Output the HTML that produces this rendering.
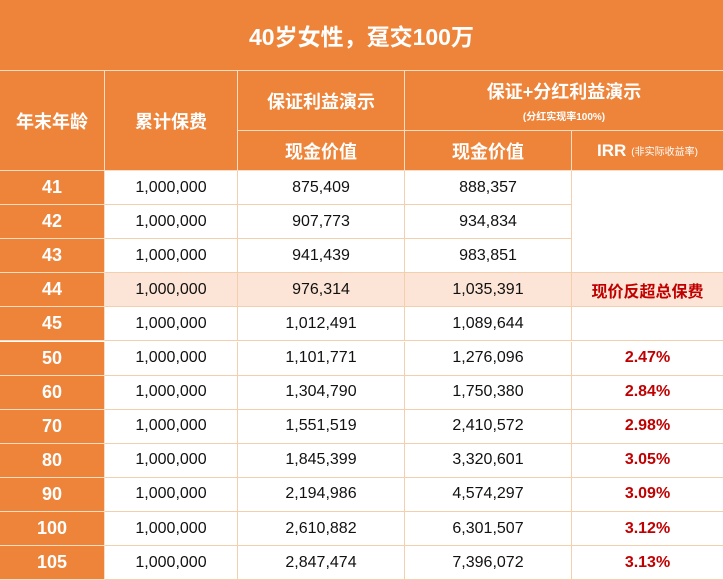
<!DOCTYPE html>
<html><head><meta charset="utf-8"><style>
*{margin:0;padding:0;box-sizing:border-box}
body{width:723px;height:580px;background:#fff;position:relative;overflow:hidden;font-family:"Liberation Sans","Noto Sans CJK SC",sans-serif}
.c{position:absolute;display:flex;align-items:center;justify-content:center;flex-direction:column;text-align:center;border-right:1px solid #f3cfae;border-bottom:1px solid #f3cfae}
.o{background:#ED843A;color:#fff;font-weight:bold;border-color:#f8dcc4}
.w{background:#fff;color:#111;font-size:16px}
.p{background:#FCE4D6}
.r{color:#c00000;font-weight:bold;font-size:16px}
</style></head><body>
<div class="c o" style="left:0;top:0;width:723px;height:71px;font-size:23px;border-right:none">40岁女性，趸交100万</div>
<div class="c o" style="left:0;top:71px;width:105px;height:100px;font-size:18px">年末年龄</div>
<div class="c o" style="left:105px;top:71px;width:133px;height:100px;font-size:18px">累计保费</div>
<div class="c o" style="left:238px;top:71px;width:167px;height:60px;font-size:18px">保证利益演示</div>
<div class="c o" style="left:405px;top:71px;width:318px;height:60px;font-size:18px;border-right:none">保证+分红利益演示<span style="font-size:10px;margin-top:4px">(分红实现率100%)</span></div>
<div class="c o" style="left:238px;top:131px;width:167px;height:40px;font-size:18px">现金价值</div>
<div class="c o" style="left:405px;top:131px;width:167px;height:40px;font-size:18px">现金价值</div>
<div class="c o" style="left:572px;top:131px;width:151px;height:40px;font-size:17px;flex-direction:row;border-right:none">IRR<span style="font-size:10px;margin-left:5px;font-weight:normal">(非实际收益率)</span></div>
<div id="rows"></div>
<script>
var d=[["41","875,409","888,357",""],["42","907,773","934,834",""],["43","941,439","983,851",""],["44","976,314","1,035,391","现价反超总保费"],["45","1,012,491","1,089,644",""],["50","1,101,771","1,276,096","2.47%"],["60","1,304,790","1,750,380","2.84%"],["70","1,551,519","2,410,572","2.98%"],["80","1,845,399","3,320,601","3.05%"],["90","2,194,986","4,574,297","3.09%"],["100","2,610,882","6,301,507","3.12%"],["105","2,847,474","7,396,072","3.13%"]];
var h="";
d.forEach(function(r,i){var t=171+i*34.1,hh=34.1,p=i==3?" p":"";
h+='<div class="c o" style="left:0;top:'+t+'px;width:105px;height:'+hh+'px;font-size:18px">'+r[0]+'</div>';
h+='<div class="c w'+p+'" style="left:105px;top:'+t+'px;width:133px;height:'+hh+'px">1,000,000</div>';
h+='<div class="c w'+p+'" style="left:238px;top:'+t+'px;width:167px;height:'+hh+'px">'+r[1]+'</div>';
h+='<div class="c w'+p+'" style="left:405px;top:'+t+'px;width:167px;height:'+hh+'px">'+r[2]+'</div>';
if(i==0)h+='<div class="c w" style="left:572px;top:171px;width:151px;height:102.3px;border-right:none"></div>';
else if(i>2)h+='<div class="c w r'+p+'" style="left:572px;top:'+t+'px;width:151px;height:'+hh+'px;border-right:none">'+r[3]+'</div>';
});
document.getElementById("rows").innerHTML=h;
</script>
</body></html>
